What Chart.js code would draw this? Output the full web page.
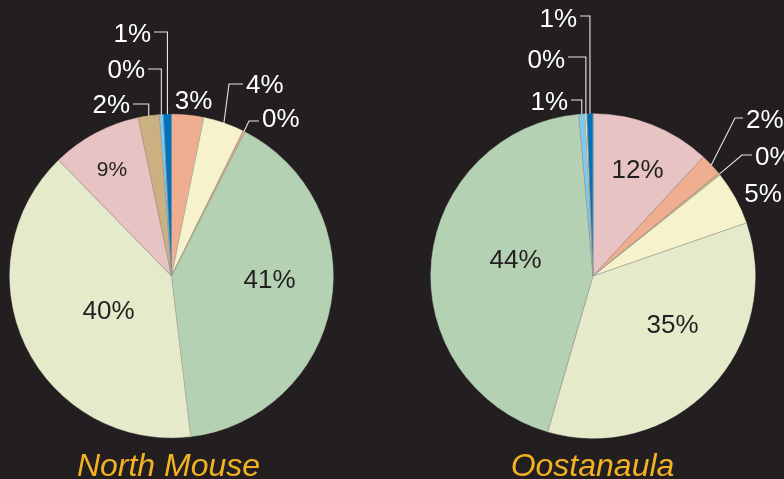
<!DOCTYPE html>
<html><head><meta charset="utf-8">
<script src="https://cdn.jsdelivr.net/npm/chart.js@4"></script>
<style>
html,body{margin:0;padding:0;background:#231f20;width:784px;height:479px;overflow:hidden}
.wrap{position:absolute;top:0;width:392px;height:479px}
</style></head><body>
<div class="wrap" style="left:0"><canvas id="c1" width="392" height="479"></canvas></div>
<div class="wrap" style="left:392px"><canvas id="c2" width="392" height="479"></canvas></div>
<script>
// ---- data (percent of area, clockwise from 12 o'clock) ----
const northMouseTitle = "North Mouse";
const northMouseCategories = ["Class D", "Class E", "Class I", "Class F", "Class G", "Class H", "Class C", "Class B", "Class A"];
const northMouseValues = [3.2, 4.1, 0.2, 40.6, 39.6, 9.0, 2.1, 0.4, 0.8];
const northMouseColors = ["#eeae8f", "#f6f2cb", "#e9a98a", "#b5d1b3", "#e5ebca", "#e7c3c3", "#cbb081", "#7fcbef", "#0072bc"];

const oostanaulaTitle = "Oostanaula";
const oostanaulaCategories = ["Class H", "Class D", "Class C", "Class E", "Class G", "Class F", "Class B", "Class J", "Class A"];
const oostanaulaValues = [11.9, 2.2, 0.2, 5.4, 34.8, 44.1, 0.6, 0.2, 0.6];
const oostanaulaColors = ["#e7c3c3", "#eeae8f", "#cbb081", "#f6f2cb", "#e5ebca", "#b5d1b3", "#7fcbef", "#f6efc6", "#0072bc"];

// ---- label placement (offsets from pie centre, px) ----
const northMouseLabelSpecs = [
  {kind: 'free', dx: 22, dy: -176},
  {kind: 'out', bend: [57.5, -192], end: 71.5, ty: -192},
  {kind: 'out', bend: [77.5, -155], end: 87.5, ty: -158},
  {kind: 'in', dx: 98, dy: 3},
  {kind: 'in', dx: -63, dy: 34},
  {kind: 'in', dx: -59.5, dy: -108, size: 21},
  {kind: 'out', bend: [null, -172], end: -38.5, ty: -172.5},
  {kind: 'out', bend: [null, -207], end: -23.5, ty: -207},
  {kind: 'out', bend: [null, -244], end: -17.5, ty: -243}
];
const oostanaulaLabelSpecs = [
  {kind: 'in', dx: 44.5, dy: -107.5},
  {kind: 'out', bend: [142, -158], end: 150, ty: -157},
  {kind: 'out', bend: [149, -121], end: 159, ty: -120},
  {kind: 'free', dx: 170, dy: -83},
  {kind: 'in', dx: 79.5, dy: 47.5},
  {kind: 'in', dx: -77.5, dy: -17},
  {kind: 'out', bend: [null, -176], end: -22, ty: -175},
  {kind: 'out', bend: [null, -219], end: -25, ty: -217},
  {kind: 'out', bend: [null, -260], end: -13, ty: -258.5}
];

const FONT = '"Liberation Sans", Arial, Helvetica, sans-serif';

const pieLabelPlugin = {
  id: 'pieLabels',
  afterDatasetsDraw(chart, args, opts) {
    const ctx = chart.ctx;
    const meta = chart.getDatasetMeta(0);
    const ds = chart.data.datasets[0];
    let pcx = 0, pcy = 0;
    ctx.save();
    // thin radial separators between slices (no outer outline)
    ctx.strokeStyle = '#9d9891';
    ctx.lineWidth = 0.7;
    meta.data.forEach(arc => {
      const p = arc.getProps(['x', 'y', 'outerRadius', 'startAngle'], true);
      ctx.beginPath();
      ctx.moveTo(p.x, p.y);
      ctx.lineTo(p.x + p.outerRadius * Math.cos(p.startAngle), p.y + p.outerRadius * Math.sin(p.startAngle));
      ctx.stroke();
    });
    meta.data.forEach((arc, i) => {
      const spec = opts.specs[i];
      const p = arc.getProps(['x', 'y', 'outerRadius', 'startAngle', 'endAngle'], true);
      pcx = p.x; pcy = p.y;
      if (!spec) return;
      const text = Math.round(ds.data[i]) + '%';
      const size = spec.size || 26;
      ctx.font = size + 'px ' + FONT;
      ctx.textBaseline = 'alphabetic';
      const capShift = size * 0.358;
      if (spec.kind === 'in' || spec.kind === 'free') {
        ctx.fillStyle = spec.kind === 'in' ? '#231f20' : '#ffffff';
        ctx.textAlign = 'center';
        ctx.fillText(text, p.x + spec.dx, p.y + spec.dy + capShift);
      } else {
        const mid = (p.startAngle + p.endAngle) / 2;
        const ax = p.x + p.outerRadius * Math.cos(mid);
        const ay = p.y + p.outerRadius * Math.sin(mid);
        const bx = spec.bend[0] === null ? ax : p.x + spec.bend[0];
        const by = p.y + spec.bend[1];
        const ex = p.x + spec.end;
        ctx.strokeStyle = '#e6e6e6';
        ctx.lineWidth = 1.1;
        ctx.beginPath();
        ctx.moveTo(ax, ay);
        ctx.lineTo(bx, by);
        ctx.lineTo(ex, by);
        ctx.stroke();
        ctx.fillStyle = '#ffffff';
        const toLeft = ex < bx;
        ctx.textAlign = toLeft ? 'right' : 'left';
        ctx.fillText(text, ex + (toLeft ? -3 : 3), p.y + spec.ty + capShift);
      }
    });
    ctx.font = 'italic 32px ' + FONT;
    ctx.fillStyle = '#f3b221';
    ctx.textAlign = 'center';
    ctx.textBaseline = 'alphabetic';
    ctx.fillText(opts.title, pcx + opts.titleDx, 476);
    ctx.restore();
  }
};

function makePie(id, title, cats, vals, colors, specs, padding, titleDx) {
  return new Chart(document.getElementById(id), {
    type: 'pie',
    data: {
      labels: cats,
      datasets: [{
        data: vals,
        backgroundColor: colors,
        borderColor: colors,
        borderWidth: 0.5
      }]
    },
    options: {
      responsive: false,
      animation: false,
      layout: {padding: padding},
      plugins: {
        legend: {display: false},
        tooltip: {enabled: false},
        pieLabels: {specs: specs, title: title, titleDx: titleDx}
      }
    },
    plugins: [pieLabelPlugin]
  });
}

makePie('c1', northMouseTitle, northMouseCategories, northMouseValues, northMouseColors,
  northMouseLabelSpecs, {left: 9.5, right: 58.5, top: 114, bottom: 41}, -3);
makePie('c2', oostanaulaTitle, oostanaulaCategories, oostanaulaValues, oostanaulaColors,
  oostanaulaLabelSpecs, {left: 38.5, right: 28.5, top: 113.5, bottom: 40.5}, -0.5);
</script>
</body></html>
